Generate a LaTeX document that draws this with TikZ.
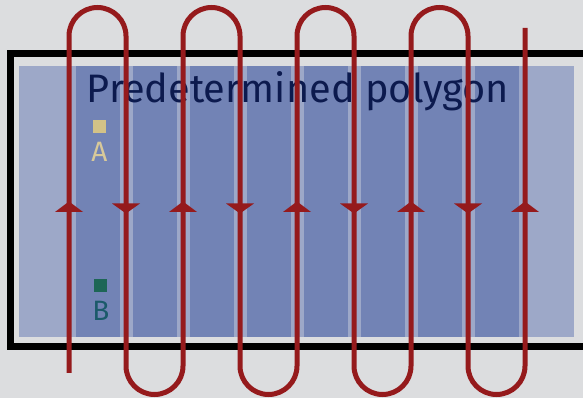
\documentclass[tikz,border=0pt]{standalone}
\usepackage{fontspec}
\setmainfont{Fira Sans}
\definecolor{bgray}{HTML}{DCDDDF}
\definecolor{polyblue}{HTML}{9DA8C8}
\definecolor{cellblue}{HTML}{7283B5}
\definecolor{pathred}{HTML}{951A1C}
\definecolor{navy}{HTML}{0C1A4E}
\definecolor{tanfill}{HTML}{D3C287}
\definecolor{tantext}{HTML}{D8C99A}
\definecolor{greenfill}{HTML}{1D6656}
\definecolor{tealtext}{HTML}{1B5A6A}
\begin{document}
\begin{tikzpicture}[x=1pt,y=1pt,
  frame/.style={draw=black,line width=7pt},
  sweep/.style={draw=pathred,line width=5pt},
  tipup/.style={fill=pathred},
  marker/.style={minimum size=13pt,inner sep=0pt,outer sep=0pt}]
  \useasboundingbox (0,0) rectangle (583,398);
  \clip (0,0) rectangle (583,398);
  \fill[bgray] (0,0) rectangle (583,398);
  % outer boundary
  \draw[frame] (10.5,51) rectangle (586,344.5);
  % polygon and lanes
  \fill[polyblue] (19,61) rectangle (574,332);
  \foreach \i in {0,...,7} {
    \fill[cellblue] ({75.5+57*\i},61) rectangle ({119.5+57*\i},332);
  }
  % labels and points
  \node[text=navy,font=\fontsize{39.7}{42}\selectfont,anchor=base,inner sep=0pt] (title) at (298,295) {Predetermined polygon};
  \node[marker,fill=tanfill] (pa) at (99.5,271.5) {};
  \node[text=tantext,font=\fontsize{28}{30}\selectfont,anchor=base,inner sep=0pt] (la) at (99.5,236) {A};
  \node[marker,fill=greenfill] (pb) at (100.5,112.5) {};
  \node[text=tealtext,font=\fontsize{28}{30}\selectfont,anchor=base,inner sep=0pt] (lb) at (101,77) {B};
  % boustrophedon path
  \draw[sweep] (69,25) -- (69,362)
    arc[start angle=180,end angle=0,radius=28.5] -- (126,32)
    arc[start angle=180,end angle=360,radius=28.5] -- (183,362)
    arc[start angle=180,end angle=0,radius=28.5] -- (240,32)
    arc[start angle=180,end angle=360,radius=28.5] -- (297,362)
    arc[start angle=180,end angle=0,radius=28.5] -- (354,32)
    arc[start angle=180,end angle=360,radius=28.5] -- (411,362)
    arc[start angle=180,end angle=0,radius=28.5] -- (468,32)
    arc[start angle=180,end angle=360,radius=28.5] -- (525,370);
  % direction marks
  \foreach \x in {69,183,297,411,525} {
    \fill[tipup] (\x-14,186) -- (\x+14,186) -- (\x,196.5) -- cycle;
  }
  \foreach \x in {126,240,354,468} {
    \fill[tipup] (\x-14,194.5) -- (\x+14,194.5) -- (\x,184.5) -- cycle;
  }
\end{tikzpicture}
\end{document}
